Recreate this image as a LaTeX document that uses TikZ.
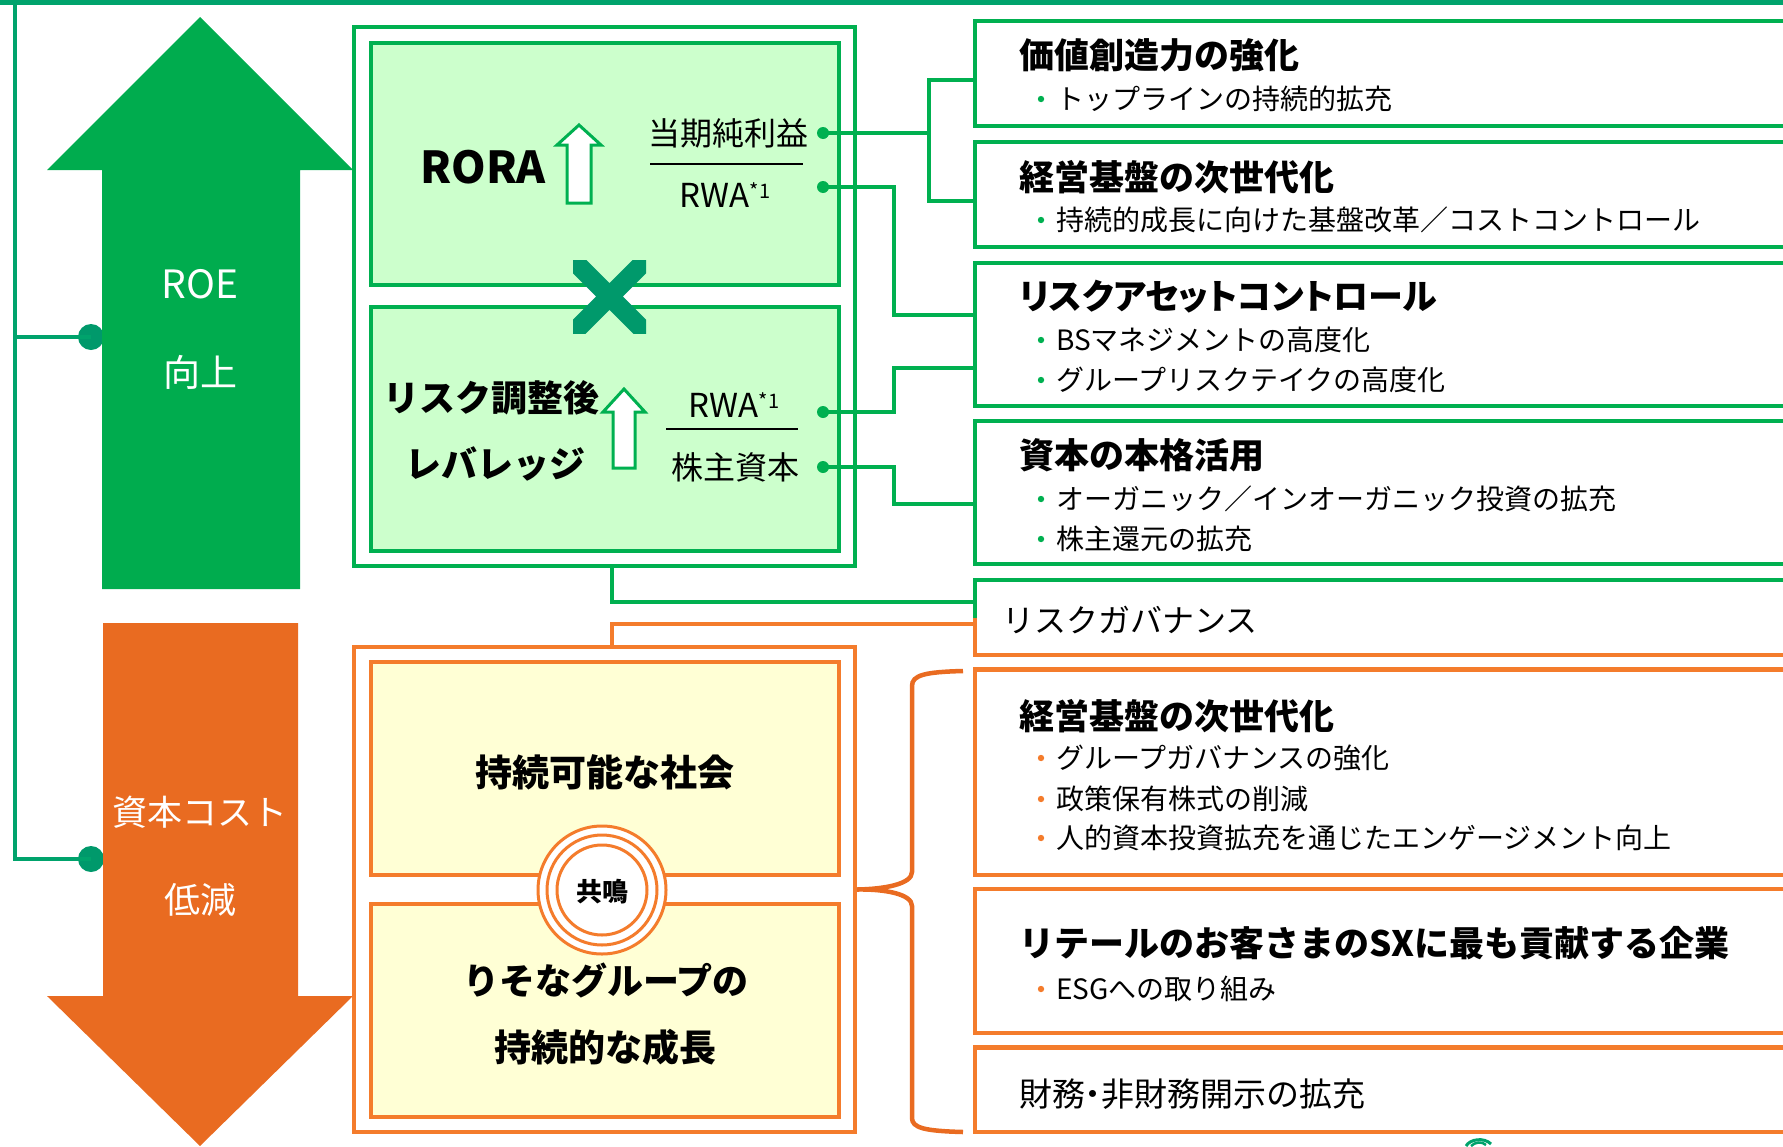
\documentclass[tikz,border=0pt]{standalone}
\usepackage{fontspec}
\setmainfont{Noto Sans CJK JP}
\usetikzlibrary{calc}
\definecolor{teal1}{HTML}{00A36C}
\definecolor{grn}{HTML}{00B050}
\definecolor{arrg}{HTML}{00AC4E}
\definecolor{dkg}{HTML}{00996B}
\definecolor{lgrn}{HTML}{CCFFCC}
\definecolor{org}{HTML}{F47C2C}
\definecolor{arro}{HTML}{E96B21}
\definecolor{lyel}{HTML}{FFFFD5}
\newcommand{\myfs}[1]{\fontsize{#1}{#1}\selectfont}
\newcommand{\sups}{\raisebox{9.5pt}{\myfs{20}*1}}
\newcommand{\propw}{\addfontfeature{RawFeature=+palt}}
\begin{document}
\begin{tikzpicture}[x=1pt,y=-1pt,
  gline/.style={draw=grn,line width=3.5},
  oline/.style={draw=org,line width=3.5},
  gouterbox/.style={draw=grn,line width=4,fill=white,rectangle,inner sep=0},
  ginnerbox/.style={draw=grn,line width=4.5,fill=lgrn,rectangle,inner sep=0},
  oouterbox/.style={draw=org,line width=4,fill=white,rectangle,inner sep=0},
  oinnerbox/.style={draw=org,line width=4.5,fill=lyel,rectangle,inner sep=0},
  grbox/.style={draw=grn,line width=4.5,rectangle,inner sep=0,minimum width=825},
  orbox/.style={draw=org,line width=4.5,rectangle,inner sep=0,minimum width=825},
  ttl/.style={anchor=west,inner sep=0,font=\myfs{35}\bfseries},
  btxt/.style={anchor=west,inner sep=0,font=\myfs{28}},
  ctr/.style={inner sep=0,align=center},
  gdot/.style={circle,fill=grn,inner sep=0,minimum size=12},
  bigdot/.style={circle,fill=dkg,inner sep=0,minimum size=26},
  smallarrow/.style={draw=grn,line width=3,fill=white,line join=miter}
]
\useasboundingbox (0,0) rectangle (1783,1146);

% top line and left trunk
\draw[teal1,line width=5] (0,2.5) -- (1783,2.5);
\node[bigdot] (dotup) at (91,337) {};
\node[bigdot] (dotdown) at (91,859) {};
\coordinate (trunktop) at (15,0);
\draw[teal1,line width=4] (trunktop) |- (dotdown.center);
\draw[teal1,line width=4] (trunktop |- dotup) -- (dotup.center);

% big arrows
\fill[arrg] (200,17) -- (353,170) -- (300,170) -- (300,589) -- (102,589) -- (102,170) -- (47,170) -- cycle;
\fill[arro] (103,623) -- (298,623) -- (298,996) -- (353,996) -- (200,1146) -- (47,996) -- (103,996) -- cycle;
\node[ctr,text=white,font=\myfs{39}] (roe) at (200,284) {ROE};
\node[ctr,text=white,font=\myfs{37}] (koujou) at (200,372) {向上};
\node[ctr,text=white,font=\myfs{35}] (shihon) at (200,812) {資本コスト};
\node[ctr,text=white,font=\myfs{36}] (teigen) at (200,900) {低減};

% green group
\node[gouterbox,minimum width=501,minimum height=539] (gouter) at (604.5,296.5) {};
\node[ginnerbox,minimum width=468,minimum height=242] (gtop) at (605,164) {};
\node[ginnerbox,minimum width=468,minimum height=244] (gbot) at (605,429) {};

\node[ctr,font=\myfs{44}\bfseries] (rora) at (483,167) {RORA};
\draw[smallarrow] (579,125) -- (601,145) -- (591,145) -- (591,203) -- (567,203) -- (567,145) -- (557,145) -- cycle;
\node[ctr,font=\myfs{32}] (num1) at (728,133) {当期純利益};
\node[ctr,font=\myfs{33}] (den1) at (725,195) {RWA\sups};
\draw[line width=2.2] (650,164) -- (803,164);
\node[gdot] (d1) at (823,133) {};
\node[gdot] (d2) at (823,187) {};

\node[ctr,font=\myfs{36}\bfseries] (risk1) at (491,398) {リスク調整後};
\node[ctr,font=\myfs{36}\bfseries] (risk2) at (495,464) {レバレッジ};
\draw[smallarrow] (624,389) -- (645,412) -- (635,412) -- (635,468) -- (613,468) -- (613,412) -- (603,412) -- cycle;
\node[ctr,font=\myfs{33}] (num2) at (734,405) {RWA\sups};
\node[ctr,font=\myfs{32}] (den2) at (735,467) {株主資本};
\draw[line width=2.2] (666,429) -- (798,429);
\node[gdot] (d3) at (823,412) {};
\node[gdot] (d4) at (823,467) {};

% the cross
\begin{scope}
\clip (573,260) rectangle (646,333);
\draw[dkg,line width=19] (560,247) -- (659,346) (659,247) -- (560,346);
\end{scope}

% orange group
\node[oouterbox,minimum width=501,minimum height=485] (oouter) at (604.5,889.5) {};
\node[oinnerbox,minimum width=468,minimum height=213] (otop) at (605,768.5) {};
\node[oinnerbox,minimum width=468,minimum height=213] (obot) at (605,1010.5) {};
\node[ctr,font=\myfs{37}\bfseries] (society) at (605,772) {持続可能な社会};
\node[ctr,font=\myfs{36}\bfseries] (resona1) at (606,980) {りそなグループの};
\node[ctr,font=\myfs{37}\bfseries] (resona2) at (605,1047) {持続的な成長};
\fill[white] (602,890) circle (64);
\draw[org,line width=3] (602,890) circle (64) (602,890) circle (55) (602,890) circle (45);
\node[ctr,font=\myfs{26}\bfseries] (kyomei) at (602,892) {共鳴};

% right green boxes
\node[grbox,minimum height=105] (b1) at (1387.5,73.5) {};
\node[grbox,minimum height=105] (b2) at (1387.5,194.5) {};
\node[grbox,minimum height=143] (b3) at (1387.5,334.5) {};
\node[grbox,minimum height=143] (b4) at (1387.5,492.5) {};

\node[ttl] (t1) at (1019,55) {価値創造力の強化};
\node[btxt] (t1a) at (1056,99) {トップラインの持続的拡充};
\node[ttl] (t2) at (1019,177) {経営基盤の次世代化};
\node[btxt] (t2a) at (1056,220) {持続的成長に向けた基盤改革／コストコントロール};
\node[ttl] (t3) at (1019,297) {\propw リスクアセットコントロール};
\node[btxt] (t3a) at (1056,340) {BSマネジメントの高度化};
\node[btxt] (t3b) at (1056,380) {グループリスクテイクの高度化};
\node[ttl] (t4) at (1019,455) {資本の本格活用};
\node[btxt] (t4a) at (1056,499) {オーガニック／インオーガニック投資の拡充};
\node[btxt] (t4b) at (1056,539) {株主還元の拡充};
\foreach \yy in {99,220,340,380,499,539} \fill[grn] (1041,\yy) circle (3.2);

% risk governance box
\node[inner sep=0,minimum width=825,minimum height=75] (b5) at (1387.5,617.5) {};
\draw[grn,line width=4.5] (b5.north east) -- (b5.north west) -- (b5.west);
\draw[org,line width=4.5] (b5.west) -- (b5.south west) -- (b5.south east);
\node[anchor=west,inner sep=0,font=\myfs{32}] (t5) at (1002,620) {リスクガバナンス};

% right orange boxes
\node[orbox,minimum height=205.5] (b6) at (1387.5,772.25) {};
\node[orbox,minimum height=144] (b7) at (1387.5,961) {};
\node[orbox,minimum height=84.5] (b8) at (1387.5,1089.75) {};
\node[ttl] (t6) at (1019,716) {経営基盤の次世代化};
\node[btxt] (t6a) at (1056,758) {グループガバナンスの強化};
\node[btxt] (t6b) at (1056,799) {政策保有株式の削減};
\node[btxt] (t6c) at (1056,838) {人的資本投資拡充を通じたエンゲージメント向上};
\node[ttl] (t7) at (1019,943) {リテールのお客さまのSXに最も貢献する企業};
\node[btxt] (t7a) at (1056,989) {ESGへの取り組み};
\node[anchor=west,inner sep=0,font=\myfs{33}] (t8) at (1019,1094) {財務{\propw ・}非財務開示の拡充};
\foreach \yy in {758,799,838,989} \fill[org] (1041,\yy) circle (3.2);

% connectors
\coordinate (j1) at (929,133);
\coordinate (j2) at (894,0);
\coordinate (b1a) at ([yshift=-6.5pt]b1.west);
\coordinate (b2a) at ([yshift=-6.5pt]b2.west);
\coordinate (b3a) at ([yshift=19.5pt]b3.west);
\coordinate (b3b) at ([yshift=-33.5pt]b3.west);
\coordinate (b4a) at ([yshift=-11.5pt]b4.west);
\draw[gline] (d1.center) -- (j1);
\draw[gline] (b1a) -| (j1) |- (b2a);
\draw[gline] (d2.center) -| (j2 |- b3a) -- (b3a);
\draw[gline] (d3.center) -| (j2 |- b3b) -- (b3b);
\draw[gline] (d4.center) -| (j2 |- b4a) -- (b4a);
\coordinate (b5g) at ([yshift=15.5pt]b5.west);
\coordinate (b5o) at ([yshift=-6.5pt]b5.west);
\draw[gline] ([xshift=7.5pt]gouter.south) |- (b5g);
\draw[oline] ([xshift=7.5pt]oouter.north) |- (b5o);

% brace
\draw[arro,line width=4.5] (963,671) .. controls (925,672) and (912,675) .. (912,686) -- (912,872)
  .. controls (912,884) and (885,889) .. (oouter.east)
  .. controls (885,889) and (912,894) .. (912,906) -- (912,1118)
  .. controls (912,1128) and (925,1131) .. (963,1132);

% logo fragment
\draw[teal1,line width=3] (1466,1146) .. controls (1470,1139) and (1484,1137) .. (1491,1144);
\draw[teal1,line width=2.5] (1471,1146) .. controls (1475,1142) and (1482,1141) .. (1486,1145);
\end{tikzpicture}
\end{document}
